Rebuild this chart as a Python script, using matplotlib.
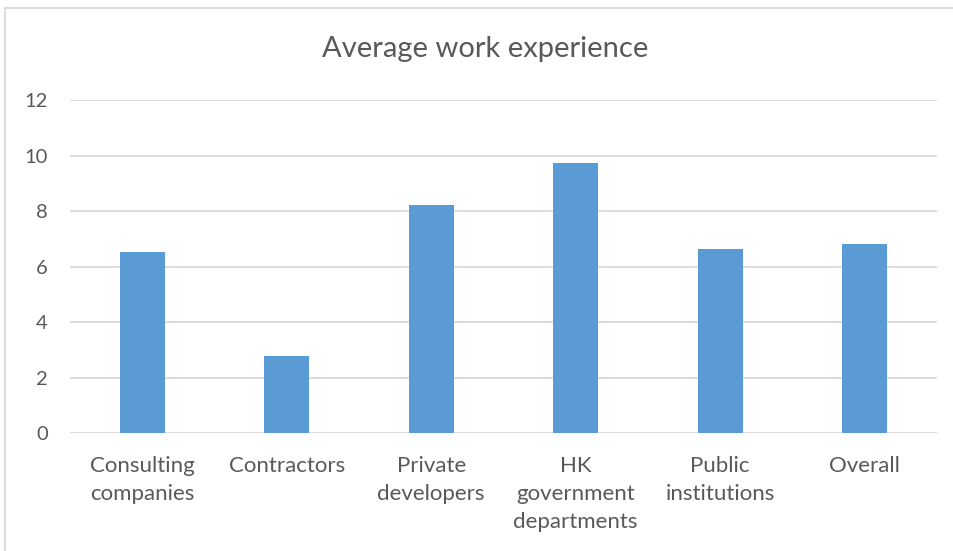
import matplotlib
matplotlib.use("Agg")
import matplotlib.pyplot as plt
from matplotlib.lines import Line2D

categories = ["Consulting\ncompanies", "Contractors", "Private\ndevelopers",
              "HK\ngovernment\ndepartments", "Public\ninstitutions", "Overall"]
values = [6.54, 2.79, 8.23, 9.74, 6.65, 6.80]
y_ticks = [0, 2, 4, 6, 8, 10, 12]

W, H = 954, 551
fig = plt.figure(figsize=(W / 100, H / 100), dpi=100)
plt.rcParams["font.family"] = ["Lato", "DejaVu Sans"]

text_color = "#595959"
grid_color = "#D9D9D9"
bar_color = "#5B9BD5"

ax = fig.add_axes([70 / W, 1 - 433.3 / H, (937 - 70) / W, (433.3 - 100) / H])
x = list(range(len(categories)))
ax.bar(x, values, width=0.313, color=bar_color, zorder=3)
ax.set_xlim(-0.5, len(categories) - 0.5)
ax.set_ylim(0, 12)
ax.set_yticks(y_ticks)
ax.set_yticklabels([str(t) for t in y_ticks])
ax.set_xticks(x)
ax.set_xticklabels(categories, linespacing=1.5, va="top")
ax.yaxis.grid(True, color=grid_color, linewidth=1.3, zorder=0)
for s in ax.spines.values():
    s.set_visible(False)
ax.tick_params(axis="both", length=0, colors=text_color)
ax.tick_params(axis="y", labelsize=14.5, pad=16)
ax.tick_params(axis="x", labelsize=16, pad=16)

fig.text(485 / W, 1 - 49 / H, "Average work experience", ha="center", va="center",
         fontsize=21, color=text_color)

# chart area border (left and top edges)
fig.add_artist(Line2D([5.5 / W, 5.5 / W], [0, 1 - 7.5 / H], transform=fig.transFigure,
                      color=grid_color, linewidth=1.3))
fig.add_artist(Line2D([5.5 / W, 1], [1 - 7.5 / H, 1 - 7.5 / H], transform=fig.transFigure,
                      color=grid_color, linewidth=1.3))

fig.savefig("out.png", dpi=100)
